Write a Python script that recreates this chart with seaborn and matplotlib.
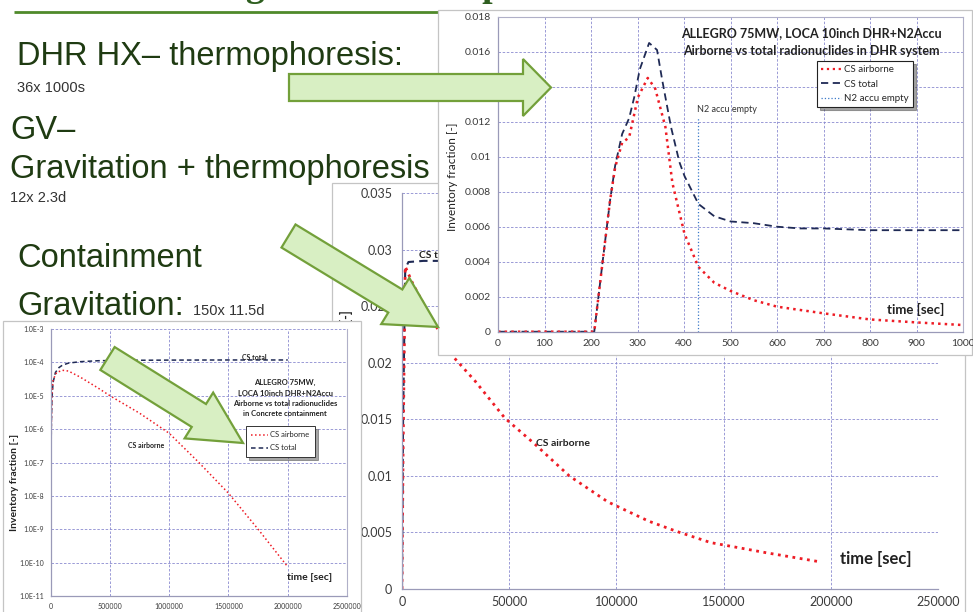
import numpy as np
import pandas as pd
import matplotlib
matplotlib.use("Agg")
import matplotlib.pyplot as plt
from matplotlib.patches import Rectangle, FancyArrow
from matplotlib.lines import Line2D
from matplotlib.ticker import FuncFormatter
import seaborn as sns

# ---------------- data ----------------
# DHR system, 0-1000 s
dhr_time_air = [0, 100, 207, 225, 241, 252, 267, 282, 301, 322, 338, 360, 375,
                401, 431, 465, 500, 550, 600, 700, 800, 900, 1000]
dhr_cs_airborne = [0, 0, 0, 0.0040, 0.0075, 0.0094, 0.0108, 0.0111, 0.0134, 0.0145,
                   0.0139, 0.0117, 0.0085, 0.0056, 0.0037, 0.0028, 0.00233, 0.0018,
                   0.00143, 0.00105, 0.0007, 0.00053, 0.00038]
dhr_time_tot = [0, 100, 207, 225, 241, 252, 267, 282, 293, 305, 325, 342, 353, 372,
                390, 401, 431, 465, 500, 550, 600, 650, 700, 800, 900, 1000]
dhr_cs_total = [0, 0, 0, 0.0040, 0.0075, 0.0095, 0.0113, 0.0122, 0.0134, 0.0150,
                0.0165, 0.0161, 0.0144, 0.0117, 0.0097, 0.0089, 0.0073, 0.0066,
                0.0063, 0.0062, 0.0060, 0.0059, 0.0059, 0.0058, 0.0058, 0.0058]
n2_empty_time = 430
n2_line_top = 0.0122

# Gas volume, 0-200000 s
gv_time_air = [0, 500, 1500, 5000, 12000, 24500, 34000, 48000, 62000, 78000, 96000,
               115000, 128000, 144000, 170000, 195000]
gv_cs_airborne = [0, 0.012, 0.0285, 0.0270, 0.0245, 0.0204, 0.0184, 0.0151, 0.0128,
                  0.0100, 0.0077, 0.0060, 0.0051, 0.0041, 0.0032, 0.0024]
gv_time_tot = [0, 500, 1500, 3000, 10000, 50000, 100000, 150000, 195000]
gv_cs_total = [0, 0.015, 0.0283, 0.0289, 0.0290, 0.0290, 0.0290, 0.0290, 0.0290]

# Concrete containment, 0-2000000 s (log scale)
ct_time_air = [0, 2000, 5000, 10000, 20000, 50000, 100000, 150000, 250000, 400000,
               500000, 750000, 1000000, 1250000, 1500000, 1750000, 2000000]
ct_cs_airborne = [1e-11, 1e-8, 1e-6, 1e-5, 3e-5, 5e-5, 5.8e-5, 5.5e-5, 3.6e-5, 1.7e-5,
                  1e-5, 3e-6, 7.5e-7, 1e-7, 1.2e-8, 1e-9, 7.5e-11]
ct_time_tot = [0, 2000, 5000, 10000, 20000, 40000, 70000, 100000, 150000, 250000,
               400000, 600000, 1000000, 1500000, 2000000]
ct_cs_total = [1e-11, 1e-8, 1e-6, 8e-6, 2.5e-5, 5e-5, 7e-5, 8.3e-5, 9.5e-5, 1.05e-4,
               1.12e-4, 1.15e-4, 1.17e-4, 1.18e-4, 1.18e-4]

dhr_xticks = [0, 100, 200, 300, 400, 500, 600, 700, 800, 900, 1000]
dhr_yticks = [0, 0.002, 0.004, 0.006, 0.008, 0.01, 0.012, 0.014, 0.016, 0.018]
gv_xticks = [0, 50000, 100000, 150000, 200000, 250000]
gv_yticks = [0, 0.005, 0.01, 0.015, 0.02, 0.025, 0.03, 0.035]
ct_xticks = [0, 500000, 1000000, 1500000, 2000000, 2500000]
ct_yticks = [1e-11, 1e-10, 1e-9, 1e-8, 1e-7, 1e-6, 1e-5, 1e-4, 1e-3]

legend_labels_dhr = ["CS airborne", "CS total", "N2 accu empty"]
legend_labels_ct = ["CS airborne", "CS total"]

# ---------------- style ----------------
sns.set_style("white")
plt.rcParams["font.family"] = ["Lato", "DejaVu Sans"]

RED = "#ee1c25"
NAVY = "#1f2a55"
BLUE = "#3a78c8"
GRID = "#8a8ad0"
SPINE = "#9a9ab8"
TXT = "#3a3a3a"
SLIDE = "#1f3b12"
ARROW_FILL = "#d8efc3"
ARROW_EDGE = "#73a03a"
DASH = (0, (4, 2.5))

W, H = 973, 612
fig = plt.figure(figsize=(W / 100, H / 100), dpi=100)


def rect(x0, y0, x1, y1):
    return [x0 / W, 1 - y1 / H, (x1 - x0) / W, (y1 - y0) / H]


def fx(x):
    return x / W


def fy(y):
    return 1 - y / H


def add_box(x0, y0, x1, y1, z):
    fig.add_artist(Rectangle((fx(x0), fy(y1)), (x1 - x0) / W, (y1 - y0) / H,
                             transform=fig.transFigure, facecolor="white",
                             edgecolor="#c4c4c4", linewidth=0.9, zorder=z))


def style_axes(ax, fs, right=True, top=True):
    ax.grid(True, color=GRID, linestyle=(0, (3, 2)), linewidth=0.6)
    for s in ["left", "bottom"]:
        ax.spines[s].set_color(SPINE)
        ax.spines[s].set_linewidth(0.9)
    ax.spines["right"].set_visible(right)
    ax.spines["top"].set_visible(top)
    ax.spines["right"].set_color("#b0b0c8")
    ax.spines["top"].set_color("#b0b0c8")
    ax.tick_params(axis="both", direction="out", length=3, width=0.7,
                   color=SPINE, labelsize=fs, labelcolor=TXT, pad=2)
    ax.set_xlabel("")
    ax.set_ylabel("")


def line(ax, t, v, color, ls, lw):
    df = pd.DataFrame({"t": t, "v": v})
    sns.lineplot(data=df, x="t", y="v", ax=ax, color=color, linestyle=ls,
                 linewidth=lw, estimator=None, sort=False, legend=False)


# ---------------- slide background text ----------------
bg = fig.add_axes([0, 0, 1, 1], zorder=1)
bg.set_xlim(0, W)
bg.set_ylim(H, 0)
bg.axis("off")
bg.text(17, -3.5, "Aerosol settling on DHR components", family="Liberation Serif",
        fontweight="bold", fontsize=27, color="#2e5e1f", va="baseline")
bg.plot([14, 440], [12, 12], color="#4f8a2a", lw=2, solid_capstyle="butt")

big = dict(family="Liberation Sans", fontsize=23.5, color=SLIDE, va="baseline")
small = dict(family="Liberation Sans", fontsize=10.5, color="#333333", va="baseline")
bg.text(17, 65, "DHR HX\u2013 thermophoresis:", **big)
bg.text(17, 92.5, "36x 1000s", **small)
bg.text(10, 139, "GV\u2013", **big)
bg.text(10, 178, "Gravitation + thermophoresis", **big)
bg.text(10, 202.5, "12x 2.3d", **small)
bg.text(17, 267, "Containment", **big)
bg.text(17, 315, "Gravitation:", **big)
bg.text(193, 315, "150x 11.5d", **small)

# ---------------- gas volume chart (middle) ----------------
add_box(332, 183, 965, 616, 10)
axB = fig.add_axes(rect(402, 193, 938, 589), zorder=11)
line(axB, gv_time_tot, gv_cs_total, NAVY, DASH, 1.5)
line(axB, gv_time_air, gv_cs_airborne, RED, ":", 2.0)
axB.set_xlim(0, 250000)
axB.set_ylim(0, 0.035)
axB.set_xticks(gv_xticks)
axB.set_yticks(gv_yticks)
axB.xaxis.set_major_formatter(FuncFormatter(lambda v, _: f"{v:.0f}"))
axB.yaxis.set_major_formatter(FuncFormatter(lambda v, _: f"{v:g}"))
style_axes(axB, 9, right=False, top=False)
axB.tick_params(axis="y", pad=4)
axB.text(8000, 0.0291, "CS total", fontsize=7.5, fontweight="bold", color="#222222",
         va="bottom", ha="left")
axB.text(62500, 0.0129, "CS airborne", fontsize=7.5, fontweight="bold",
         color="#222222", va="center", ha="left")
axB.text(fx(840), fy(559), "time [sec]", transform=fig.transFigure, fontsize=12,
         fontweight="bold", color="#222222", va="center", ha="left")
axB.text(fx(346), fy(310), "Inventory fraction [-]", transform=fig.transFigure,
         fontsize=9, fontweight="bold", color="#222222", rotation=90,
         va="top", ha="center")

# ---------------- containment chart (bottom left, log) ----------------
add_box(3, 321, 361, 616, 20)
axC = fig.add_axes(rect(50.7, 329, 347, 596), zorder=21)
line(axC, ct_time_tot, ct_cs_total, NAVY, (0, (3, 2)), 1.1)
line(axC, ct_time_air, ct_cs_airborne, RED, ":", 1.1)
axC.set_yscale("log")
axC.set_xlim(0, 2500000)
axC.set_ylim(1e-11, 1e-3)
axC.set_xticks(ct_xticks)
axC.set_yticks(ct_yticks)
axC.minorticks_off()
axC.xaxis.set_major_formatter(FuncFormatter(lambda v, _: f"{v:.0f}"))
axC.yaxis.set_major_formatter(
    FuncFormatter(lambda v, _: "1.0E%d" % int(round(np.log10(v)))))
style_axes(axC, 5, right=True, top=False)
axC.text(1613000, 1.38e-4, "CS total", fontsize=5, fontweight="bold",
         color="#222222", va="center", ha="left")
axC.text(652000, 3.2e-7, "CS airborne", fontsize=5, fontweight="bold",
         color="#222222", va="center", ha="left")
for yy, s in zip([382, 393, 403, 414],
                 ["ALLEGRO 75MW,", "LOCA 10inch DHR+N2Accu",
                  "Airborne vs total radionuclides", "in Concrete containment"]):
    axC.text(fx(285), fy(yy), s, transform=fig.transFigure, fontsize=5.5,
             fontweight="bold", color="#222222", ha="center", va="center")
axC.text(fx(287), fy(577), "time [sec]", transform=fig.transFigure, fontsize=7.5,
         fontweight="bold", color="#222222", ha="left", va="center")
axC.text(fx(15), fy(482), "Inventory fraction [-]", transform=fig.transFigure,
         fontsize=7.5, fontweight="bold", color="#222222", rotation=90,
         ha="center", va="center")
hC = [Line2D([], [], color=RED, ls=":", lw=1.1),
      Line2D([], [], color=NAVY, ls=(0, (3, 2)), lw=1.1)]
legC = axC.legend(hC, legend_labels_ct, loc="upper left",
                  bbox_to_anchor=(fx(246), fy(426)), bbox_transform=fig.transFigure,
                  fontsize=5.5, frameon=True, fancybox=False, shadow=True,
                  edgecolor="#333333", borderaxespad=0, handlelength=2.2,
                  handletextpad=0.3, labelspacing=0.8, borderpad=0.7)
legC.get_frame().set_linewidth(0.7)

# ---------------- DHR system chart (top right) ----------------
add_box(438, 10, 972, 355, 30)
axA = fig.add_axes(rect(498, 16.7, 963, 331.7), zorder=31)
line(axA, dhr_time_tot, dhr_cs_total, NAVY, DASH, 1.3)
line(axA, dhr_time_air, dhr_cs_airborne, RED, ":", 1.8)
axA.vlines(n2_empty_time, 0, n2_line_top, color=BLUE, linestyles=":", linewidth=0.9)
axA.set_xlim(0, 1000)
axA.set_ylim(0, 0.018)
axA.set_xticks(dhr_xticks)
axA.set_yticks(dhr_yticks)
axA.yaxis.set_major_formatter(FuncFormatter(lambda v, _: f"{v:g}"))
style_axes(axA, 7.5, right=True, top=True)
axA.text(fx(811), fy(33), "ALLEGRO 75MW, LOCA 10inch DHR+N2Accu",
         transform=fig.transFigure, fontsize=9, fontweight="bold", color="#222222",
         ha="center", va="center")
axA.text(fx(811), fy(51), "Airborne vs total radionuclides in DHR system",
         transform=fig.transFigure, fontsize=9, fontweight="bold", color="#222222",
         ha="center", va="center")
axA.text(fx(697), fy(109), "N2 accu empty", transform=fig.transFigure, fontsize=6.5,
         color="#333333", ha="left", va="center")
axA.text(fx(944), fy(309), "time [sec]", transform=fig.transFigure, fontsize=9.5,
         fontweight="bold", color="#222222", ha="right", va="center")
axA.text(fx(452), fy(177), "Inventory fraction [-]", transform=fig.transFigure,
         fontsize=8.5, color="#222222", rotation=90, ha="center", va="center")
hA = [Line2D([], [], color=RED, ls=":", lw=1.6),
      Line2D([], [], color=NAVY, ls=DASH, lw=1.3),
      Line2D([], [], color=BLUE, ls=":", lw=0.9)]
legA = axA.legend(hA, legend_labels_dhr, loc="upper left",
                  bbox_to_anchor=(fx(817), fy(61)), bbox_transform=fig.transFigure,
                  fontsize=7, frameon=True, fancybox=False, shadow=True,
                  edgecolor="#222222", borderaxespad=0, handlelength=2.0,
                  handletextpad=0.3, labelspacing=0.55, borderpad=0.45)
legA.get_frame().set_linewidth(0.8)

# ---------------- arrows ----------------
ov = fig.add_axes([0, 0, 1, 1], zorder=50)
ov.set_xlim(0, W)
ov.set_ylim(H, 0)
ov.axis("off")
arrow_kw = dict(length_includes_head=True, facecolor=ARROW_FILL,
                edgecolor=ARROW_EDGE, linewidth=1.6, joinstyle="miter")
ov.add_patch(FancyArrow(289, 87.5, 262, 0, width=27, head_width=57,
                        head_length=28, **arrow_kw))
ov.add_patch(FancyArrow(288.5, 236, 149.5, 91, width=27, head_width=54,
                        head_length=50, **arrow_kw))
ov.add_patch(FancyArrow(107.5, 358.5, 135.5, 84.5, width=27, head_width=54,
                        head_length=52, **arrow_kw))

fig.savefig("out.png", dpi=100)
